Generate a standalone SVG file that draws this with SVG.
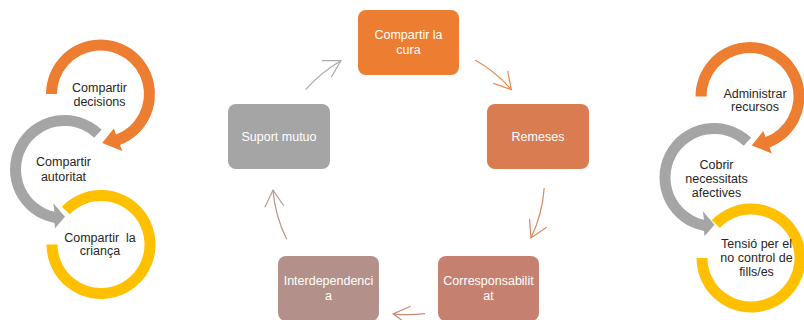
<svg xmlns="http://www.w3.org/2000/svg" width="804" height="320" viewBox="0 0 804 320">
<style>
.t{font-family:"Liberation Sans",Arial,sans-serif;font-size:12.5px;text-anchor:middle;white-space:pre}
.w{fill:#ffffff}
.d{fill:#262626}
.c{fill:none;stroke-width:1.2}
</style>
<defs>
<path id="arcA" d="M-54.5,0 A54.5,54.5 0 1 1 19.53,50.88 L21.86,56.95 L1.71,48.97 L13.26,34.54 L15.59,40.61 A43.5,43.5 0 1 0 -43.5,0 Z"/>
<path id="arcB" d="M37.17,-39.86 A54.5,54.5 0 1 0 -10,53.57 L-9.5,58.8 L0.5,47.2 L-11.2,33.8 L-10,42.33 A43.5,43.5 0 1 1 29.67,-31.82 Z"/>
<path id="arcC" d="M-39.2,-37.86 A54.5,54.5 0 1 1 -54.5,0 L-43.5,0 A43.5,43.5 0 1 0 -31.29,-30.22 Z"/>
<marker id="m1" markerUnits="userSpaceOnUse" markerWidth="40" markerHeight="40" refX="0" refY="0" viewBox="-20 -20 40 40" orient="auto" overflow="visible"><path d="M-16.5,-9.5 L0,0 L-16.5,9.5" fill="none" stroke="#EE8A4A" stroke-width="1.2"/></marker>
<marker id="m2" markerUnits="userSpaceOnUse" markerWidth="40" markerHeight="40" refX="0" refY="0" viewBox="-20 -20 40 40" orient="auto" overflow="visible"><path d="M-16.5,-9.5 L0,0 L-16.5,9.5" fill="none" stroke="#DB8660" stroke-width="1.2"/></marker>
<marker id="m3" markerUnits="userSpaceOnUse" markerWidth="40" markerHeight="40" refX="0" refY="0" viewBox="-20 -20 40 40" orient="auto" overflow="visible"><path d="M-16.5,-9.5 L0,0 L-16.5,9.5" fill="none" stroke="#CA8877" stroke-width="1.2"/></marker>
<marker id="m4" markerUnits="userSpaceOnUse" markerWidth="40" markerHeight="40" refX="0" refY="0" viewBox="-20 -20 40 40" orient="auto" overflow="visible"><path d="M-16.5,-9.5 L0,0 L-16.5,9.5" fill="none" stroke="#B8968F" stroke-width="1.2"/></marker>
<marker id="m5" markerUnits="userSpaceOnUse" markerWidth="40" markerHeight="40" refX="0" refY="0" viewBox="-20 -20 40 40" orient="auto" overflow="visible"><path d="M-16.5,-9.5 L0,0 L-16.5,9.5" fill="none" stroke="#ABABAB" stroke-width="1.2"/></marker>
</defs>
<rect width="804" height="320" fill="#ffffff"/>

<!-- Left circular arrow process -->
<g id="left-decisions">
<use href="#arcA" transform="translate(100.5,94)" fill="#ED7D31"/>
<text class="t d" x="99.5" y="92">Compartir</text>
<text class="t d" x="99.5" y="106">decisions</text>
</g>
<g id="left-autoritat">
<use href="#arcB" transform="translate(64.5,169.5)" fill="#A5A5A5"/>
<text class="t d" x="63.5" y="166">Compartir</text>
<text class="t d" x="63.5" y="180.5">autoritat</text>
</g>
<g id="left-crianca">
<use href="#arcC" transform="translate(101,244.5)" fill="#FFC000"/>
<text class="t d" x="100" y="241.5">Compartir  la</text>
<text class="t d" x="100" y="255">criança</text>
</g>

<!-- Central cycle -->
<g id="node-cura">
<rect x="358" y="10" width="101" height="65" rx="8" fill="#ED7D31"/>
<text class="t w" x="408.5" y="38.5">Compartir la</text>
<text class="t w" x="408.5" y="53.5">cura</text>
</g>
<g id="node-remeses">
<rect x="487" y="104" width="102" height="65" rx="8" fill="#D97C52"/>
<text class="t w" x="538" y="140.5">Remeses</text>
</g>
<g id="node-corresponsabilitat">
<rect x="438" y="256" width="101" height="65" rx="8" fill="#C6806F"/>
<text class="t w" x="488.5" y="285">Corresponsabilit</text>
<text class="t w" x="488.5" y="299.5">at</text>
</g>
<g id="node-interdependencia">
<rect x="278" y="256" width="101" height="65" rx="8" fill="#B3918A"/>
<text class="t w" x="328.5" y="285">Interdependenci</text>
<text class="t w" x="328.5" y="299.5">a</text>
</g>
<g id="node-suport">
<rect x="228" y="104" width="102" height="65" rx="8" fill="#A5A5A5"/>
<text class="t w" x="279" y="140.5">Suport mutuo</text>
</g>

<g id="connectors">
<path class="c" stroke="#EE8A4A" marker-end="url(#m1)" d="M475.06,60.1 A136,136 0 0 1 511.29,89.66"/>
<path class="c" stroke="#DB8660" marker-end="url(#m2)" d="M544.19,187.95 A136,136 0 0 1 530.94,237.89"/>
<path class="c" stroke="#CA8877" marker-end="url(#m3)" d="M425.07,313.69 A136,136 0 0 1 393.1,313.83"/>
<path class="c" stroke="#B8968F" marker-end="url(#m4)" d="M286.68,239.17 A136,136 0 0 1 272.98,190.08"/>
<path class="c" stroke="#ABABAB" marker-end="url(#m5)" d="M305.7,89.66 A136,136 0 0 1 340.91,60.68"/>
</g>

<!-- Right circular arrow process -->
<g id="right-recursos">
<use href="#arcA" transform="translate(750,96.5)" fill="#ED7D31"/>
<text class="t d" x="755" y="97.5">Administrar</text>
<text class="t d" x="755" y="111">recursos</text>
</g>
<g id="right-afectives">
<use href="#arcB" transform="translate(714,177.5)" fill="#A5A5A5"/>
<text class="t d" x="716.5" y="169">Cobrir</text>
<text class="t d" x="716.5" y="183">necessitats</text>
<text class="t d" x="716.5" y="197">afectives</text>
</g>
<g id="right-tensio">
<use href="#arcC" transform="translate(751,258)" fill="#FFC000"/>
<text class="t d" x="756.5" y="247.5">Tensió per el</text>
<text class="t d" x="756.5" y="261.5">no control de</text>
<text class="t d" x="756.5" y="275.5">fills/es</text>
</g>
</svg>
